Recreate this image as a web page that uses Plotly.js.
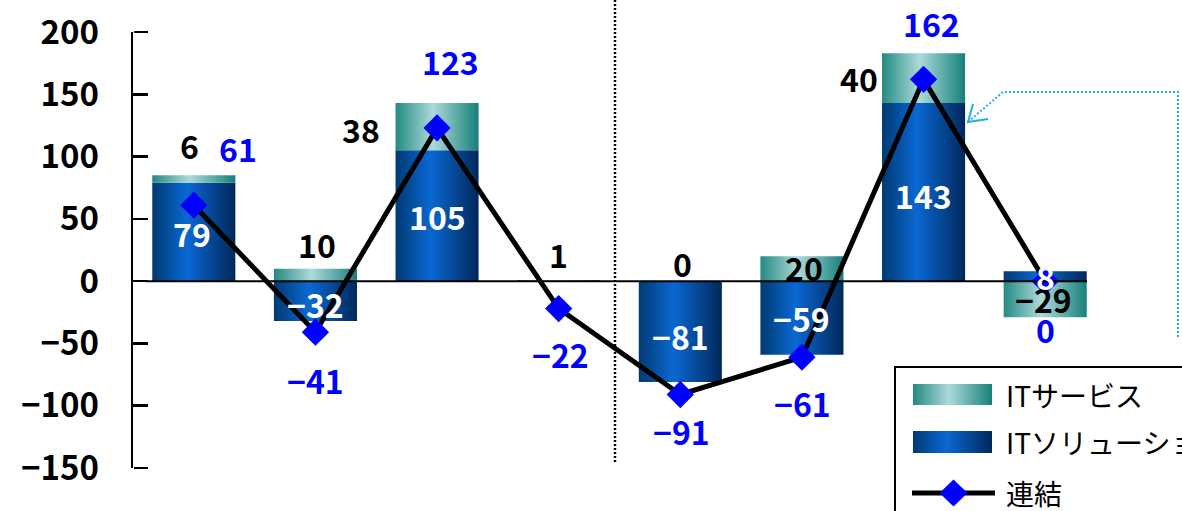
<!DOCTYPE html>
<html>
<head>
<meta charset="utf-8">
<script src="https://cdn.plot.ly/plotly-3.0.1.min.js"></script>
<style>
html,body{margin:0;padding:0;background:#ffffff;}
#chart{width:1182px;height:511px;}
</style>
</head>
<body>
<div id="chart"></div>
<script>
// ---------------- data ----------------
const categories   = ['P1', 'P2', 'P3', 'P4', 'P5', 'P6', 'P7', 'P8'];
const itSolution   = [79, -32, 105, 0, -81, -59, 143, 8];     // ITソリューション
const itService    = [6, 10, 38, 1, 0, 20, 40, -29];          // ITサービス
const consolidated = [61, -41, 123, -22, -91, -61, 162, 0];   // 連結
const yTickValues  = [-150, -100, -50, 0, 50, 100, 150, 200];
const seriesNames  = ['ITサービス', 'ITソリューション', '連結'];

// ---------------- styling / placement ----------------
const FONT = '"Noto Sans CJK JP", "Noto Sans", sans-serif';
const W = 1182, H = 511;
const plotL = 133, plotR = 1106, plotT = 32, plotB = 468;
const xMin = -0.5, xMax = 7.5, yMin = -150, yMax = 200;
const barWidth = 0.683;
const blueScale = [[0, '#003a72'], [0.42, '#0a68d2'], [1, '#00285a']];
const tealScale = [[0, '#238a82'], [0.45, '#acdada'], [1, '#16807a']];
// label offsets in pixels [dx, dy(up)]
const textLift = 2;
const serviceShift  = [[-4, 28], [2, 23], [-76, -28], [0, 24], [2, 16], [2, -13], [-65, -27], [-2, 16]];
const solutionShift = [[-2, -3], [0, -5], [0, -2], [0, 0], [0, -6], [0, -2], [0, -5], [0, -2]];
const consolShift   = [[44, 55], [0, -50], [13, 65], [2, -47], [1, -38], [1, -48], [8, 54], [0, -50]];

// pixel -> paper / data helpers for the decorations
const px = v => (v - plotL) / (plotR - plotL);
const py = v => (plotB - v) / (plotB - plotT);
const dx = v => xMin + (v - plotL) / (plotR - plotL) * (xMax - xMin);
const dy = v => yMax - (v - plotT) / (plotB - plotT) * (yMax - yMin);

const fmt = v => (v < 0 ? '\u2212' + Math.abs(v) : String(v));
const xs = categories.map((c, i) => i);

// ---------------- bars (gradient-filled rectangles on the data axes) ----------------
const traces = [];
function rectTrace(x0, x1, y0, y1, scale, name) {
  return {
    type: 'scatter', mode: 'lines', name: name, showlegend: false, hoverinfo: 'skip',
    x: [x0, x1, x1, x0, x0], y: [y0, y0, y1, y1, y0],
    fill: 'toself', line: {width: 0, color: 'rgba(0,0,0,0)'},
    fillcolor: scale[1][1],
    fillgradient: {type: 'horizontal', colorscale: scale}
  };
}
xs.forEach(i => {
  if (itSolution[i] !== 0)
    traces.push(rectTrace(i - barWidth / 2, i + barWidth / 2, 0, itSolution[i], blueScale, seriesNames[1]));
});
xs.forEach(i => {
  const s = itService[i];
  if (s === 0) return;
  const base = s >= 0 ? Math.max(itSolution[i], 0) : Math.min(itSolution[i], 0);
  traces.push(rectTrace(i - barWidth / 2, i + barWidth / 2, base, base + s, tealScale, seriesNames[0]));
});

// consolidated line
traces.push({
  type: 'scatter', mode: 'lines+markers', name: seriesNames[2], showlegend: false,
  x: xs, y: consolidated,
  line: {color: '#000000', width: 5},
  marker: {symbol: 'diamond', size: 21, color: '#0000ff', opacity: 1, line: {width: 0}}
});

// legend swatches (inside the plot area)
traces.push(rectTrace(dx(913), dx(992), dy(405), dy(384), tealScale, 'legend'));
traces.push(rectTrace(dx(913), dx(992), dy(453), dy(431), blueScale, 'legend'));
// empty trace so that the tick-mark axis is drawn
traces.push({type: 'scatter', mode: 'markers', x: [], y: [], yaxis: 'y2', showlegend: false, hoverinfo: 'skip'});

// ---------------- annotations ----------------
const annotations = [];
const labelFont = (c) => ({family: FONT, size: 32, color: c, weight: 'bold'});
xs.forEach(i => {
  const sol = itSolution[i], srv = itService[i];
  const base = srv >= 0 ? Math.max(sol, 0) : Math.min(sol, 0);
  annotations.push({x: i, y: base + srv, xref: 'x', yref: 'y', text: fmt(srv), showarrow: false,
    xanchor: 'center', yanchor: 'middle', xshift: serviceShift[i][0], yshift: serviceShift[i][1] + textLift,
    font: labelFont('#000000')});
  if (sol !== 0) annotations.push({x: i, y: sol / 2, xref: 'x', yref: 'y', text: fmt(sol), showarrow: false,
    xanchor: 'center', yanchor: 'middle', xshift: solutionShift[i][0], yshift: solutionShift[i][1] + textLift,
    font: labelFont('#ffffff')});
  annotations.push({x: i, y: consolidated[i], xref: 'x', yref: 'y', text: fmt(consolidated[i]), showarrow: false,
    xanchor: 'center', yanchor: 'middle', xshift: consolShift[i][0], yshift: consolShift[i][1] + textLift,
    font: labelFont('#0000ff')});
});
const legendFont = {family: FONT, size: 28, color: '#000000'};
[[seriesNames[0], 395], [seriesNames[1], 442], [seriesNames[2], 493]].forEach(([t, y]) => {
  annotations.push({x: px(1004), y: py(y), xref: 'paper', yref: 'paper', text: t, showarrow: false,
    xanchor: 'left', yanchor: 'middle', font: legendFont});
});

// ---------------- shapes ----------------
const cyan = '#1eb0ea';
const shapes = [
  // category (zero) axis line
  {type: 'line', xref: 'x', yref: 'y', x0: dx(146), x1: dx(1087), y0: 0, y1: 0,
   line: {color: '#000000', width: 2}, layer: 'above'},
  // dotted divider
  {type: 'line', xref: 'paper', yref: 'paper', x0: px(615), x1: px(615), y0: py(0), y1: py(462),
   line: {color: '#000000', width: 2.5, dash: '2px,2px'}},
  // cyan dotted connector + open arrow head
  {type: 'path', xref: 'paper', yref: 'paper',
   path: `M${px(1178)},${py(337)} L${px(1178)},${py(92)} L${px(1003)},${py(92)} L${px(968)},${py(122)}`,
   line: {color: cyan, width: 2, dash: '2px,2px'}},
  {type: 'path', xref: 'paper', yref: 'paper',
   path: `M${px(973)},${py(104)} L${px(968)},${py(122)} L${px(988)},${py(119)}`,
   line: {color: cyan, width: 2}},
  // legend frame
  {type: 'rect', xref: 'paper', yref: 'paper', x0: px(895), x1: px(1200), y0: py(367), y1: py(530),
   line: {color: '#000000', width: 2}, fillcolor: 'rgba(0,0,0,0)'},
  // legend: 連結 line sample and diamond
  {type: 'line', xref: 'paper', yref: 'paper', x0: px(912), x1: px(995), y0: py(493), y1: py(493),
   line: {color: '#000000', width: 5}},
  {type: 'path', xref: 'paper', yref: 'paper',
   path: `M${px(953.5)},${py(479.5)} L${px(967.5)},${py(493)} L${px(953.5)},${py(506.5)} L${px(939.5)},${py(493)} Z`,
   fillcolor: '#0000ff', line: {width: 0}}
];

const layout = {
  width: W, height: H,
  margin: {l: plotL, r: W - plotR, t: plotT, b: H - plotB, pad: 0},
  paper_bgcolor: '#ffffff', plot_bgcolor: '#ffffff',
  showlegend: false,
  xaxis: {range: [xMin, xMax], showline: false, showticklabels: false, ticks: '',
    showgrid: false, zeroline: false, fixedrange: true},
  yaxis: {
    range: [yMin, yMax],
    tickmode: 'array', tickvals: yTickValues, ticktext: yTickValues.map(fmt),
    ticks: 'inside', ticklen: 15, tickwidth: 2.5, tickcolor: '#000000',
    showline: true, linecolor: '#000000', linewidth: 2.5,
    showgrid: false, zeroline: false, fixedrange: true,
    ticklabelstandoff: 25,
    tickfont: {family: FONT, size: 33, color: '#000000', weight: 'bold'}
  },
  // tick marks pointing into the plot, drawn on an overlaying axis at the left edge
  yaxis2: {
    overlaying: 'y', side: 'right', anchor: 'free', position: 0,
    range: [yMin, yMax], tickmode: 'array', tickvals: yTickValues,
    ticks: 'outside', ticklen: 14, tickwidth: 2.5, tickcolor: '#000000',
    showticklabels: false, showline: false, showgrid: false, zeroline: false, fixedrange: true
  },
  annotations: annotations,
  shapes: shapes
};

Plotly.newPlot('chart', traces, layout, {displayModeBar: false, staticPlot: true});
</script>
</body>
</html>
